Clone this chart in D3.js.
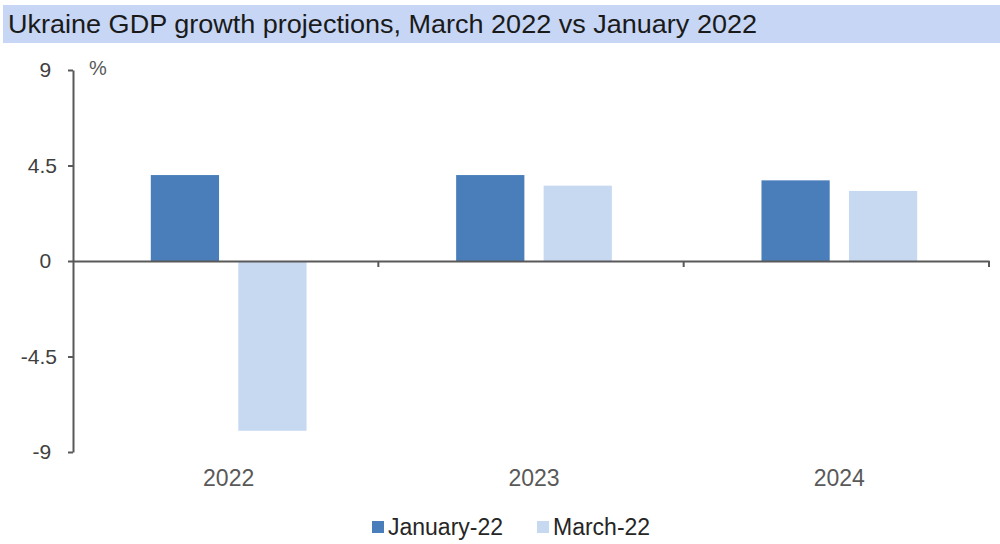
<!DOCTYPE html>
<html>
<head>
<meta charset="utf-8">
<script src="https://cdn.jsdelivr.net/npm/d3@7"></script>
<style>
  body { margin: 0; background: #fff; }
  svg { display: block; font-family: 'Liberation Sans', Arial, sans-serif; }
</style>
</head>
<body>
<div id="chart"></div>
<script>
// values
const years = ['2022', '2023', '2024'];
const seriesNames = ['January-22', 'March-22'];
const january22 = [4.05, 4.05, 3.8];
const march22 = [-8.0, 3.55, 3.3];
const yTicks = [-9, -4.5, 0, 4.5, 9];

const colors = { 'January-22': '#4a7ebb', 'March-22': '#c6d9f1' };

const width = 1000, height = 544;
const margin = { top: 70, right: 11, bottom: 92, left: 73 };

const svg = d3.select('#chart')
  .append('svg')
  .attr('width', width)
  .attr('height', height);

// title band
svg.append('rect')
  .attr('x', 3)
  .attr('y', 5)
  .attr('width', 997)
  .attr('height', 38)
  .attr('fill', '#c6d6f4');

svg.append('text')
  .attr('x', 8)
  .attr('y', 33)
  .attr('font-size', 26)
  .attr('fill', '#1a1a1a')
  .attr('textLength', 749)
  .attr('lengthAdjust', 'spacingAndGlyphs')
  .text('Ukraine GDP growth projections, March 2022 vs January 2022');

const data = years.map((yr, i) => ({
  year: yr,
  values: [
    { key: 'January-22', value: january22[i] },
    { key: 'March-22', value: march22[i] }
  ]
}));

const x0 = d3.scaleBand()
  .domain(years)
  .range([margin.left, width - margin.right])
  .paddingInner(0.49)
  .paddingOuter(0.245);

const x1 = d3.scaleBand()
  .domain(seriesNames)
  .range([0, x0.bandwidth()])
  .paddingInner(0.22);

const y = d3.scaleLinear()
  .domain([-9, 9])
  .range([height - margin.bottom, margin.top]);

// bars
const groups = svg.append('g')
  .selectAll('g')
  .data(data)
  .join('g')
  .attr('transform', d => `translate(${x0(d.year) + 3},0)`);

groups.selectAll('rect')
  .data(d => d.values)
  .join('rect')
  .attr('x', d => x1(d.key))
  .attr('y', d => y(Math.max(0, d.value)))
  .attr('width', x1.bandwidth())
  .attr('height', d => Math.abs(y(d.value) - y(0)))
  .attr('fill', d => colors[d.key]);

// y axis
const yAxis = svg.append('g')
  .attr('transform', `translate(${margin.left},0)`)
  .call(d3.axisLeft(y).tickValues(yTicks).tickSize(5).tickSizeOuter(0).tickPadding(11)
    .tickFormat(d => d));

yAxis.select('.domain').attr('stroke', '#595959').attr('stroke-width', 2);
yAxis.selectAll('.tick line').attr('stroke', '#595959').attr('stroke-width', 2);
yAxis.selectAll('.tick text')
  .attr('font-size', 21)
  .attr('fill', '#404040')
  .attr('font-family', "'Liberation Sans', Arial, sans-serif")
  .each(function(d) {
    // integer labels keep the room of a decimal point, as in the original
    if (!String(d).includes('.')) {
      d3.select(this).append('tspan').attr('fill-opacity', 0).text('.');
    }
  });

svg.append('text')
  .attr('x', 89)
  .attr('y', 75)
  .attr('font-size', 20)
  .attr('fill', '#595959')
  .text('%');

// zero line with category separators
const xAxis = svg.append('g')
  .attr('transform', `translate(0,${y(0)})`)
  .call(d3.axisBottom(x0).tickSize(0).tickFormat(''));

xAxis.select('.domain').attr('stroke', '#595959').attr('stroke-width', 2);

const sepTicks = x0.domain().map(d => x0(d) - x0.step() * x0.paddingInner() / 2).slice(1)
  .concat([width - margin.right]);

svg.append('g')
  .selectAll('line')
  .data(sepTicks)
  .join('line')
  .attr('x1', d => d)
  .attr('x2', d => d)
  .attr('y1', y(0))
  .attr('y2', y(0) + 6)
  .attr('stroke', '#595959')
  .attr('stroke-width', 2);

// category labels
svg.append('g')
  .selectAll('text')
  .data(years)
  .join('text')
  .attr('x', d => x0(d) + x0.bandwidth() / 2 + 3)
  .attr('y', 486)
  .attr('text-anchor', 'middle')
  .attr('font-size', 23)
  .attr('fill', '#595959')
  .text(d => d);

// legend
const legendX = [372, 537];
const legend = svg.append('g');

seriesNames.forEach((name, i) => {
  const row = legend.append('g')
    .attr('transform', `translate(${legendX[i]},521)`);

  row.append('rect')
    .attr('width', 12)
    .attr('height', 12)
    .attr('fill', colors[name]);

  row.append('text')
    .attr('x', 16)
    .attr('y', 14)
    .attr('font-size', 23)
    .attr('fill', '#262626')
    .text(name);
});
</script>
</body>
</html>
